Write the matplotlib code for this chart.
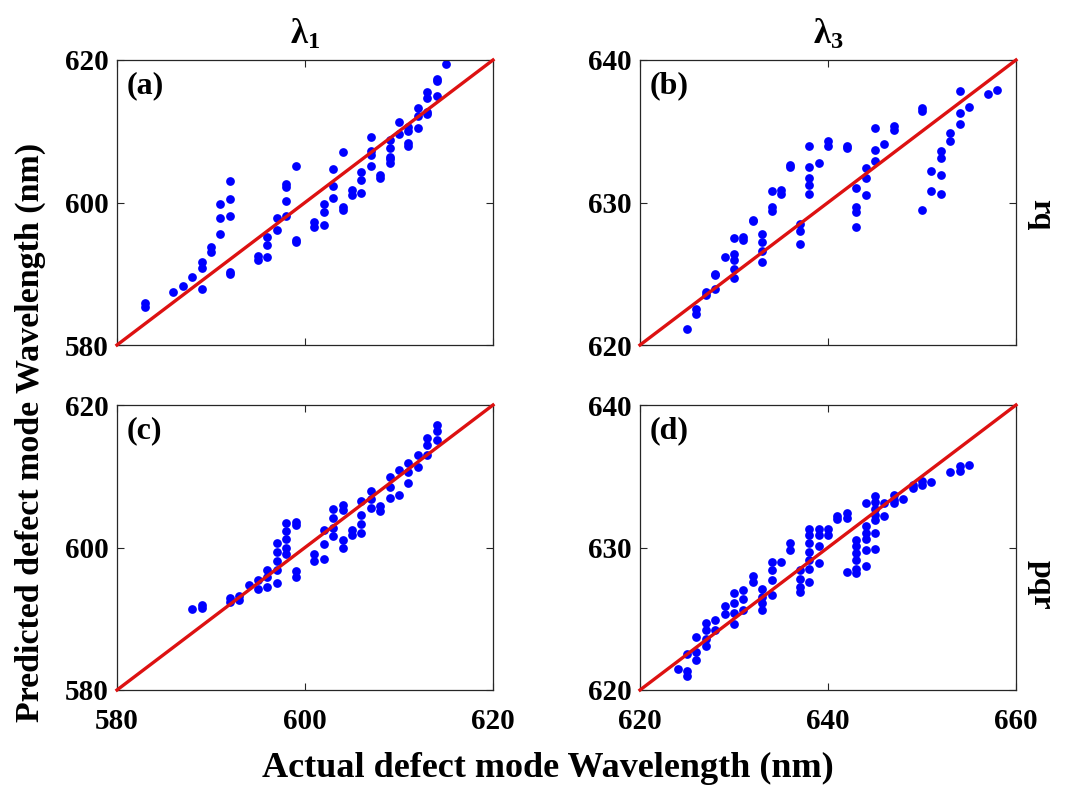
import matplotlib
matplotlib.use("Agg")
import matplotlib.pyplot as plt
import numpy as np

plt.rcParams['font.family'] = ['Liberation Serif', 'DejaVu Serif']
plt.rcParams['font.weight'] = 'bold'
plt.rcParams['mathtext.fontset'] = 'custom'
plt.rcParams['mathtext.rm'] = 'Liberation Serif:bold'
plt.rcParams['mathtext.it'] = 'Liberation Serif:bold'
plt.rcParams['mathtext.bf'] = 'Liberation Serif:bold'

# (a) rq, lambda1
a_x = [583, 583, 586, 587, 588, 589, 589, 589, 590, 590, 591, 591, 591,
       592, 592, 592, 592, 592, 595, 595, 596, 596, 596, 597, 597,
       598, 598, 598, 598, 599, 599, 599,
       601, 601, 602, 602, 602, 603, 603, 603, 604, 604, 604,
       605, 605, 606, 606, 606, 607, 607, 607, 607, 608, 608,
       609, 609, 609, 609, 609, 610, 610, 611, 611, 611, 611,
       612, 612, 612, 613, 613, 613, 613, 614, 614, 614, 615]
a_y = [585.9, 585.4, 587.5, 588.3, 589.5, 591.6, 590.8, 587.9, 593.7, 593.1, 595.6, 597.8, 599.8,
       603.0, 600.5, 598.1, 590.3, 590.0, 592.5, 592.0, 595.2, 594.0, 592.4, 597.8, 596.1,
       602.6, 602.2, 600.2, 598.1, 605.1, 594.7, 594.5,
       597.3, 596.6, 599.8, 598.6, 596.9, 604.7, 602.3, 600.6, 607.1, 599.3, 599.0,
       601.8, 601.1, 604.3, 603.1, 601.4, 609.2, 607.2, 606.7, 605.1, 603.9, 603.5,
       608.8, 607.6, 606.4, 606.1, 605.6, 611.3, 609.6, 610.6, 610.1, 608.4, 608.0,
       613.3, 612.1, 610.5, 615.5, 614.6, 612.7, 612.4, 617.4, 617.0, 615.0, 619.5]

# (b) rq, lambda3
b_x = [625, 626, 626, 627, 627, 628, 628, 628, 629, 630, 630, 630, 630, 630,
       631, 631, 632, 632, 633, 633, 633, 633, 634, 634, 634, 635, 635, 636, 636,
       637, 637, 637, 638, 638, 638, 638, 638, 639, 640, 640,
       642, 642, 643, 643, 643, 643, 644, 644, 644, 645, 645, 645, 646, 647, 647,
       650, 650, 650, 651, 651, 652, 652, 652, 652, 653, 653, 654, 654, 654, 655, 657, 658]
b_y = [621.1, 622.5, 622.2, 623.7, 623.5, 625.0, 624.9, 623.9, 626.2, 627.5, 626.4, 626.0, 625.3, 624.7,
       627.6, 627.4, 628.8, 628.7, 627.8, 627.2, 626.6, 625.8, 630.8, 629.7, 629.4, 630.9, 630.6, 632.6, 632.5,
       628.5, 628.0, 627.1, 634.0, 632.5, 631.7, 631.2, 630.6, 632.8, 634.3, 634.0,
       634.0, 633.8, 631.0, 629.7, 629.3, 628.3, 632.4, 631.7, 630.5, 635.2, 633.7, 632.9, 634.1, 635.4, 635.1,
       636.6, 636.4, 629.5, 632.2, 630.8, 633.6, 633.1, 631.9, 630.6, 634.9, 634.3, 637.8, 636.3, 635.5, 636.7, 637.6, 637.9]

# (c) pqr, lambda1
c_x = [588, 589, 589, 592, 592, 593, 593, 594, 595, 595, 596, 596, 596,
       597, 597, 597, 597, 597, 598, 598, 598, 598, 598, 599, 599, 599, 599,
       601, 601, 602, 602, 602, 603, 603, 603, 603, 604, 604, 604, 604, 605, 605,
       606, 606, 606, 606, 607, 607, 607, 608, 608, 609, 609, 609, 610, 610,
       611, 611, 611, 612, 612, 613, 613, 613, 614, 614, 614]
c_y = [591.3, 591.9, 591.5, 592.9, 592.4, 593.2, 592.6, 594.7, 595.4, 594.2, 596.9, 595.8, 594.5,
       600.7, 599.3, 598.1, 596.9, 595.0, 603.5, 602.3, 601.2, 600.0, 599.1, 603.6, 603.2, 596.7, 595.9,
       599.1, 598.1, 602.4, 600.5, 598.4, 605.4, 604.2, 602.8, 601.6, 605.9, 605.2, 601.0, 600.0, 602.5, 601.8,
       606.5, 604.5, 603.3, 602.1, 608.0, 606.8, 605.6, 605.8, 605.1, 609.9, 608.5, 606.9, 610.9, 607.4,
       611.8, 610.6, 609.0, 613.0, 611.3, 615.3, 614.4, 613.0, 617.2, 616.3, 615.1]

# (d) pqr, lambda3
d_x = [624, 625, 625, 625, 626, 626, 626, 627, 627, 627, 627, 628, 628, 629, 629,
       630, 630, 630, 630, 631, 631, 631, 632, 632, 633, 633, 633, 633,
       634, 634, 634, 634, 635, 636, 636, 637, 637, 637, 637,
       638, 638, 638, 638, 638, 638, 638, 639, 639, 639, 639, 640, 640,
       641, 641, 642, 642, 642, 643, 643, 643, 643, 643, 643,
       644, 644, 644, 644, 644, 644, 645, 645, 645, 645, 645, 645, 645,
       646, 646, 647, 647, 647, 648, 649, 649, 650, 650, 651, 653, 654, 654, 655]
d_y = [621.5, 622.5, 621.3, 621.0, 623.7, 622.7, 622.1, 624.7, 624.2, 623.6, 623.1, 624.9, 624.2, 625.9, 625.3,
       626.8, 626.1, 625.4, 624.6, 627.0, 626.4, 625.6, 628.0, 627.6, 627.1, 626.5, 626.1, 625.6,
       629.0, 628.4, 627.7, 626.7, 629.0, 630.3, 629.8, 628.4, 627.8, 627.2, 626.9,
       631.3, 630.9, 630.3, 629.7, 629.1, 628.5, 627.6, 631.3, 630.9, 630.1, 628.9, 631.3, 630.9,
       632.2, 632.0, 632.4, 632.1, 628.3, 630.5, 630.1, 629.6, 629.1, 628.5, 628.2,
       633.1, 631.5, 631.0, 630.6, 629.8, 628.7, 633.6, 633.2, 632.7, 632.3, 631.9, 631.0, 629.9,
       633.1, 632.2, 633.7, 633.3, 633.1, 633.4, 634.4, 634.2, 634.7, 634.4, 634.6, 635.3, 635.7, 635.4, 635.8]

lims_1 = [580, 620]
lims_3 = [620, 640]
xlims_3 = [620, 660]
ticks_1 = [580, 600, 620]
ticks_3y = [620, 630, 640]
ticks_3x = [620, 640, 660]

fig = plt.figure(figsize=(10.75, 7.89), dpi=100)
W, H = 1075, 789

def make_ax(x0, y0, x1, y1):
    return fig.add_axes([x0 / W, 1 - y1 / H, (x1 - x0) / W, (y1 - y0) / H])

panels = [
    (make_ax(117, 60, 493, 345), a_x, a_y, lims_1, lims_1, ticks_1, ticks_1, '(a)', False),
    (make_ax(640, 60, 1016, 345), b_x, b_y, xlims_3, lims_3, ticks_3x, ticks_3y, '(b)', False),
    (make_ax(117, 405, 493, 690), c_x, c_y, lims_1, lims_1, ticks_1, ticks_1, '(c)', True),
    (make_ax(640, 405, 1016, 690), d_x, d_y, xlims_3, lims_3, ticks_3x, ticks_3y, '(d)', True),
]

for ax, x, y, xl, yl, xt, yt, tag, show_x in panels:
    ax.plot(x, y, 'o', color='#0000ff', markersize=6.3, markeredgewidth=0, zorder=2)
    # reference line from corner to corner of the axes
    ax.plot(xl, yl, color='#dd1111', linewidth=2.4, zorder=3, clip_on=False)
    ax.set_xlim(xl)
    ax.set_ylim(yl)
    ax.set_xticks(xt)
    ax.set_yticks(yt)
    if not show_x:
        ax.set_xticklabels([])
    ax.tick_params(direction='in', top=True, right=True, length=5, width=0.8,
                   labelsize=21, colors='#262626', labelcolor='black', pad=6)
    ax.tick_params(axis='x', pad=13)
    for lab in ax.get_xticklabels() + ax.get_yticklabels():
        lab.set_fontweight('bold')
    for s in ax.spines.values():
        s.set_color('#262626')
        s.set_linewidth(0.9)
    ax.text(0.025, 0.96, tag, transform=ax.transAxes, fontsize=23, fontweight='bold',
            va='top', ha='left')

fig.text(305 / W, 1 - 35 / H, r'$\lambda_1$', fontsize=25, ha='center', va='center')
fig.text(828 / W, 1 - 35 / H, r'$\lambda_3$', fontsize=25, ha='center', va='center')
fig.text(1041 / W, 1 - 215 / H, 'rq', fontsize=23, fontweight='bold', rotation=270,
         ha='center', va='center')
fig.text(1041 / W, 1 - 585 / H, 'pqr', fontsize=23, fontweight='bold', rotation=270,
         ha='center', va='center')
fig.text(548 / W, 1 - 768 / H, 'Actual defect mode Wavelength (nm)', fontsize=26,
         fontweight='bold', ha='center', va='center')
fig.text(30 / W, 1 - 432 / H, 'Predicted defect mode Wavelength (nm)', fontsize=24.5,
         fontweight='bold', rotation=90, ha='center', va='center')

fig.savefig('out.png', dpi=100, facecolor='white')
